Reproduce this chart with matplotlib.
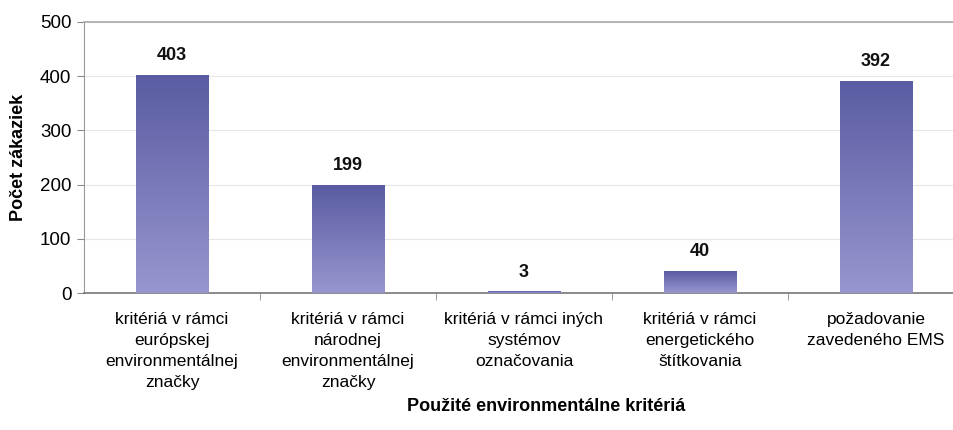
import numpy as np
import matplotlib
matplotlib.use("Agg")
import matplotlib.pyplot as plt
from matplotlib.colors import LinearSegmentedColormap

categories = [
    "kritériá v rámci\neurópskej\nenvironmentálnej\nznačky",
    "kritériá v rámci\nnárodnej\nenvironmentálnej\nznačky",
    "kritériá v rámci iných\nsystémov\noznačovania",
    "kritériá v rámci\nenergetického\nštítkovania",
    "požadovanie\nzavedeného EMS",
]
values = [403, 199, 3, 40, 392]
y_ticks = [0, 100, 200, 300, 400, 500]

plt.rcParams["font.family"] = ["Liberation Sans", "DejaVu Sans"]

fig = plt.figure(figsize=(9.54, 4.3), dpi=100)
# axes runs slightly past the right edge, as in the source image
ax = fig.add_axes([84 / 954, 137 / 430, 880 / 954, 271 / 430])

x = np.arange(len(values))
bars = ax.bar(x, values, width=0.41, color="#7a7abb", zorder=2)

cmap = LinearSegmentedColormap.from_list("barfade", ["#9896cf", "#5a5ca3"])
grad = np.linspace(0, 1, 256).reshape(-1, 1)
for b in bars:
    x0, y0 = b.get_x(), b.get_y()
    w, h = b.get_width(), b.get_height()
    im = ax.imshow(grad, cmap=cmap, aspect="auto", origin="lower",
                   extent=[x0, x0 + w, y0, y0 + h], zorder=3)
    im.set_clip_path(b)

for xi, v in zip(x, values):
    ax.text(xi, v + 20, str(v), ha="center", va="bottom",
            fontsize=13, fontweight="bold", color="#111111")

ax.set_xlim(-0.5, len(values) - 0.5)
ax.set_ylim(0, 500)
ax.set_yticks(y_ticks)
ax.tick_params(axis="y", labelsize=13.5, length=5, color="#888888", pad=4)

ax.set_xticks(x)
ax.set_xticklabels(categories, fontsize=12.5, linespacing=1.5)
ax.tick_params(axis="x", length=0, pad=14)
ax.set_xticks(np.arange(0.5, len(values) - 0.5, 1), minor=True)
ax.tick_params(axis="x", which="minor", length=5, color="#888888")

ax.grid(axis="y", color="#e6e6e6", linewidth=0.8, zorder=0)
ax.spines["right"].set_visible(False)
ax.spines["top"].set_color("#aaaaaa")
ax.spines["top"].set_linewidth(1.2)
ax.spines["left"].set_color("#999999")
ax.spines["bottom"].set_color("#777777")
ax.spines["bottom"].set_linewidth(1.2)

ax.set_ylabel("Počet zákaziek", fontsize=13, fontweight="bold", labelpad=9)
fig.text(546 / 954, 1 - 411 / 430, "Použité environmentálne kritériá",
         ha="center", va="baseline", fontsize=13, fontweight="bold")

fig.savefig("out.png", dpi=100)
